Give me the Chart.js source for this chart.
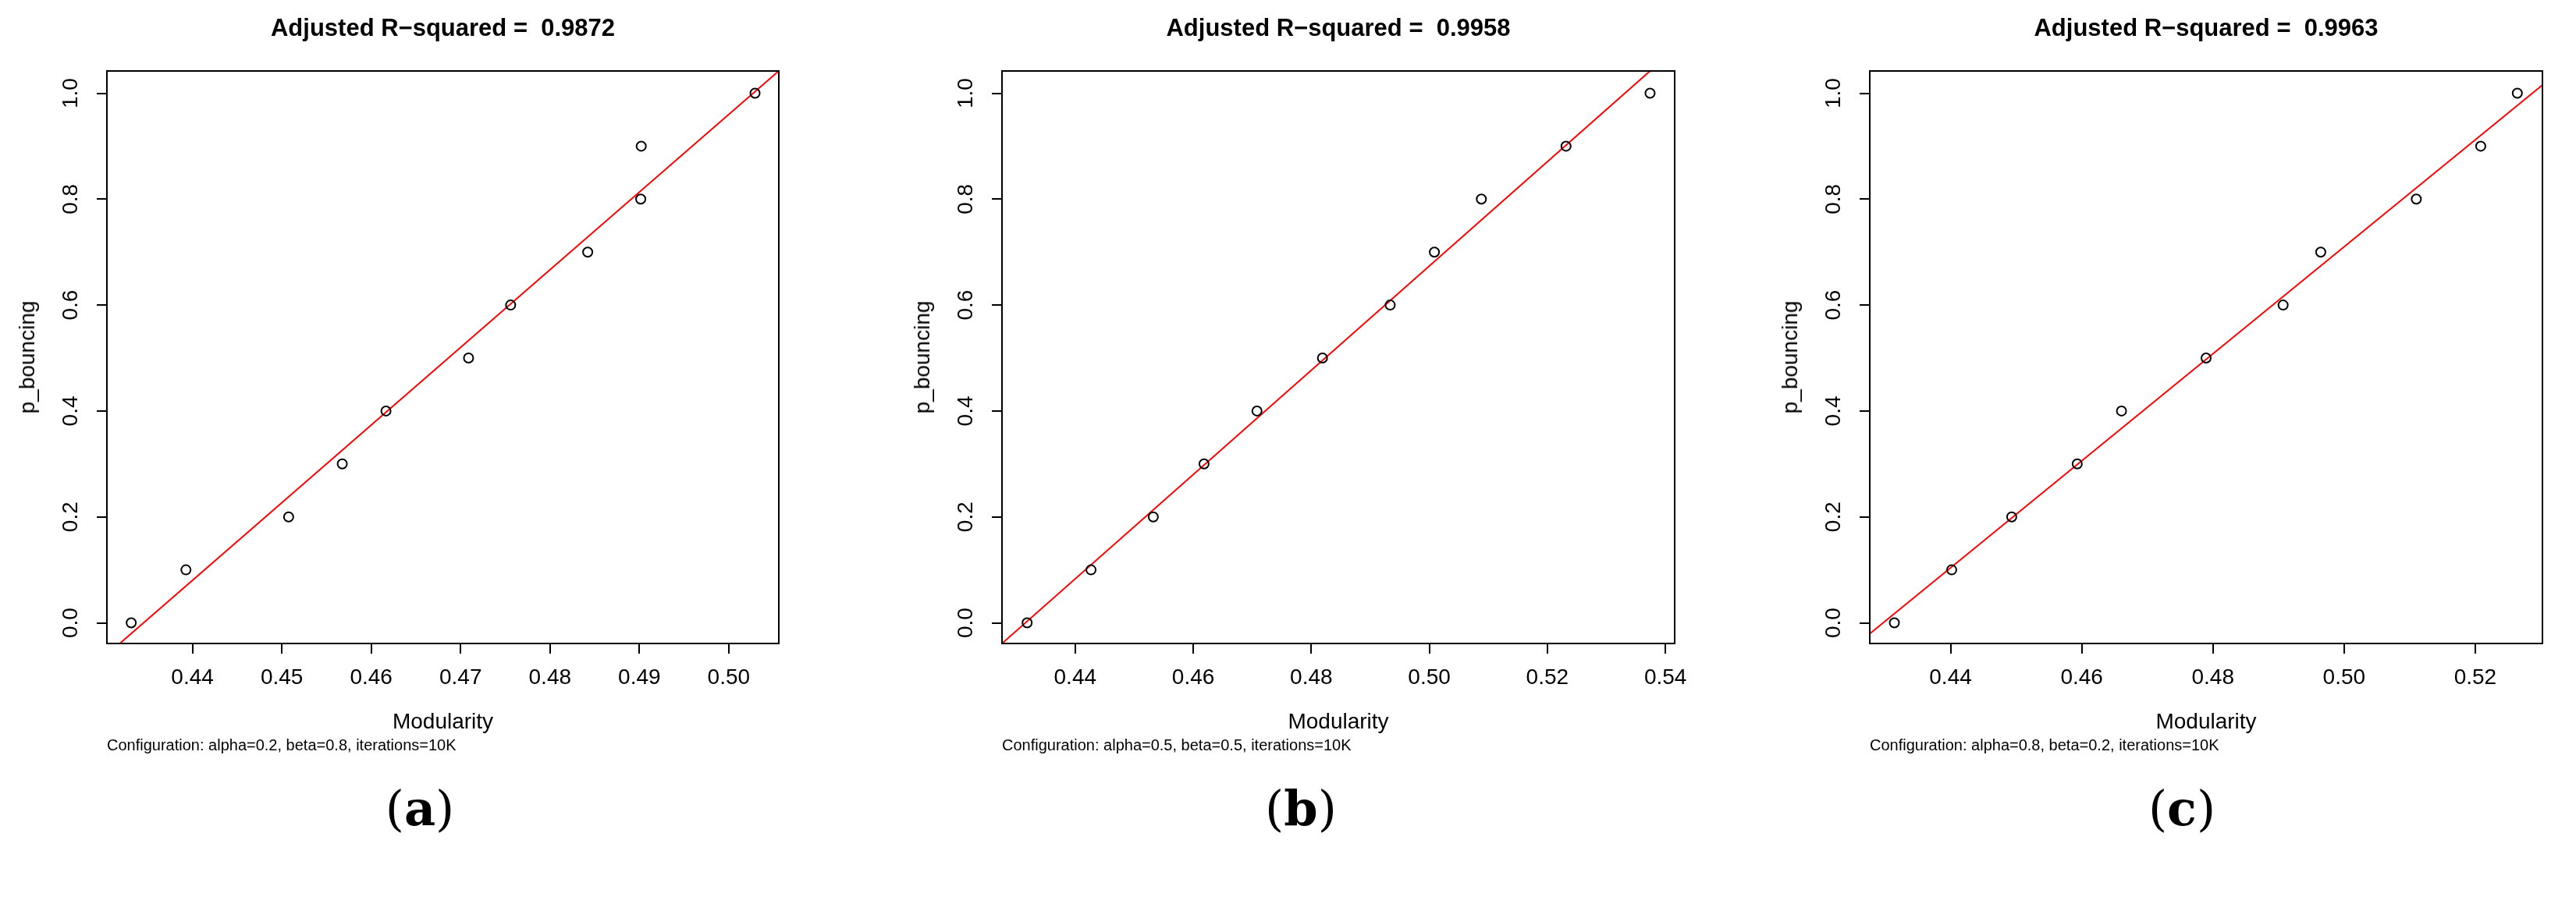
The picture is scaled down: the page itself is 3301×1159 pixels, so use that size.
<!DOCTYPE html>
<html><head><meta charset="utf-8">
<script src="https://cdn.jsdelivr.net/npm/chart.js@4"></script>
<style>
body{margin:0;background:#fff;width:3301px;height:1159px;position:relative;overflow:hidden;font-family:"Liberation Sans",Arial,sans-serif}
canvas{position:absolute;top:0}
.t{position:absolute;white-space:pre;color:#000}
.title{font-weight:bold;font-size:31px;transform:translateX(-50%);top:18px}
.xl{font-size:28px;transform:translate(-50%,-50%);top:925px}
.cf{font-size:20px;transform:translateY(-50%);top:955px}
.yl{font-size:28px;transform:translate(-50%,-50%) rotate(-90deg);top:458px}
.lab{font-family:"DejaVu Serif","Liberation Serif",serif;font-size:62px;transform:translate(-50%,-50%);top:1036px}
.lab b{font-weight:bold}
</style></head><body>
<script>
// ---- data ----
const pBouncing = [0,0.1,0.2,0.3,0.4,0.5,0.6,0.7,0.8,0.9,1.0];
const modA = [0.43315,0.43927,0.45076,0.45676,0.46165,0.47089,0.47560,0.48422,0.49015,0.49021,0.50294];
const modB = [0.43186,0.44268,0.45323,0.46183,0.47080,0.48190,0.49337,0.50086,0.50882,0.52316,0.53740];
const modC = [0.43143,0.44017,0.44932,0.45931,0.46606,0.47896,0.49070,0.49644,0.51101,0.52083,0.52641];
// fitted line end points
const fitA = [[0.43187,-0.039],[0.5056,1.042]];
const fitB = [[0.4276,-0.039],[0.5374,1.042]];
const fitC = [[0.42768,-0.0206],[0.53024,1.0155]];
const xTicksA = [0.44,0.45,0.46,0.47,0.48,0.49,0.50];
const xTicksB = [0.44,0.46,0.48,0.50,0.52,0.54];
const xTicksC = [0.44,0.46,0.48,0.50,0.52];
const yTicks = [0,0.2,0.4,0.6,0.8,1.0];
const titles = ["Adjusted R\u2212squared =  0.9872","Adjusted R\u2212squared =  0.9958","Adjusted R\u2212squared =  0.9963"];
const configs = ["Configuration: alpha=0.2, beta=0.8, iterations=10K","Configuration: alpha=0.5, beta=0.5, iterations=10K","Configuration: alpha=0.8, beta=0.2, iterations=10K"];
const panelLabels = ["a","b","c"];

const panels = [
 {x0:0, box:[137,998], xr:[0.43043,0.50560], mod:modA, fit:fitA, xt:xTicksA, labX:538},
 {x0:1100, box:[1284,2146], xr:[0.42760,0.54157], mod:modB, fit:fitB, xt:xTicksB, labX:1667},
 {x0:2200, box:[2396,3258], xr:[0.42768,0.53024], mod:modC, fit:fitC, xt:xTicksC, labX:2796}
];
const TOP=91, BOTTOM=825, FONT='"Liberation Sans", Arial, sans-serif';

function addText(cls, html, left){const d=document.createElement('div');d.className='t '+cls;d.style.left=left+'px';d.innerHTML=html;document.body.appendChild(d);}

const boxPlugin={id:'box',afterDraw(c){const a=c.chartArea,g=c.ctx;g.save();g.strokeStyle='#000';g.lineWidth=2;g.strokeRect(a.left,a.top,a.right-a.left,a.bottom-a.top);
 const ys=c.scales.y;g.fillStyle='#000';g.font='28px '+FONT;g.textAlign='center';g.textBaseline='middle';
 yTicks.forEach(v=>{const py=ys.getPixelForValue(v);g.save();g.translate(a.left-46,py);g.rotate(-Math.PI/2);g.fillText(v.toFixed(1),0,0);g.restore();});
 g.restore();}};

panels.forEach((p,i)=>{
 const cv=document.createElement('canvas');cv.width=1100;cv.height=1159;cv.style.left=p.x0+'px';cv.style.width='1100px';cv.style.height='1159px';document.body.appendChild(cv);
 const leftLocal=p.box[0]-p.x0, rightLocal=p.box[1]-p.x0;
 new Chart(cv,{type:'scatter',
  data:{datasets:[
   {data:p.mod.map((m,k)=>({x:m,y:pBouncing[k]})),pointRadius:6,pointBorderWidth:2,pointBorderColor:'#000',pointBackgroundColor:'rgba(0,0,0,0)',showLine:false},
   {data:p.fit.map(q=>({x:q[0],y:q[1]})),showLine:true,borderColor:'#ff0000',borderWidth:2,pointRadius:0}
  ]},
  options:{responsive:false,animation:false,devicePixelRatio:1,
   layout:{padding:{top:TOP,right:1100-rightLocal,bottom:1159-BOTTOM-70,left:0}},
   plugins:{legend:{display:false},tooltip:{enabled:false}},
   scales:{
    x:{type:'linear',min:p.xr[0],max:p.xr[1],afterBuildTicks:s=>{s.ticks=p.xt.map(v=>({value:v}));},
       afterFit:s=>{s.height=70;},
       grid:{display:true,drawOnChartArea:false,drawTicks:true,tickLength:13,color:'#000',lineWidth:2},border:{display:false},
       ticks:{font:{size:28,family:FONT},color:'#000',padding:14,maxRotation:0,callback:v=>Number(v).toFixed(2)}},
    y:{type:'linear',min:-0.039,max:1.042,afterBuildTicks:s=>{s.ticks=yTicks.map(v=>({value:v}));},
       afterFit:s=>{s.width=leftLocal;},
       grid:{display:true,drawOnChartArea:false,drawTicks:true,tickLength:13,color:'#000',lineWidth:2},border:{display:false},
       ticks:{callback:()=>'',font:{size:28}}}
   }},
  plugins:[boxPlugin]});
 const cx=(p.box[0]+p.box[1])/2;
 addText('title',titles[i],cx);
 addText('xl','Modularity',cx);
 addText('cf',configs[i],p.box[0]);
 addText('yl','p_bouncing',p.box[0]-102);
 addText('lab','(<b>'+panelLabels[i]+'</b>)',p.labX);
});
</script>
</body></html>
